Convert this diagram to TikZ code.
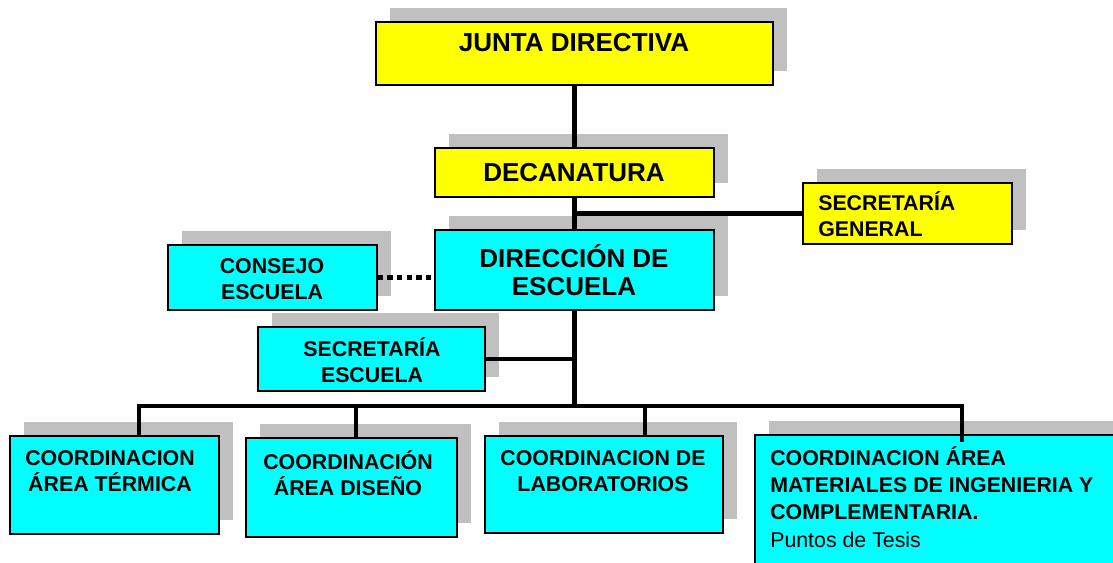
\documentclass[tikz,border=0pt]{standalone}
\usepackage{fontspec}
\setmainfont{Liberation Sans}
\usetikzlibrary{fit,shadows}
\definecolor{amarillo}{RGB}{255,255,0}
\definecolor{cian}{RGB}{0,255,255}
\definecolor{sombra}{RGB}{192,192,192}
\begin{document}
\begin{tikzpicture}[x=0.75pt,y=0.75pt,yscale=-1,xscale=1,
  caja/.style={draw, line width=1.2pt, inner sep=0pt,
    general shadow={fill=sombra, shadow xshift=10.5pt, shadow yshift=10.5pt}},
  amarilla/.style={caja, fill=amarillo},
  celeste/.style={caja, fill=cian},
  grande/.style={font=\bfseries\fontsize{19.5}{21}\selectfont, inner sep=0pt, align=center},
  chica/.style={font=\bfseries\fontsize{16}{19}\selectfont, inner sep=0pt, align=center},
  enlace/.style={line width=3.6pt},
  punteado/.style={line width=3.75pt, dash pattern=on 4pt off 3.2pt}]
\useasboundingbox (0,0) rectangle (1113,562);
\clip (0,0) rectangle (1113,562);

%Shape: Rectangle [junta directiva]
\node [amarilla, fit={(376,22) (773,85)}] (junta) {};
%Shape: Rectangle [decanatura]
\node [amarilla, fit={(435,148) (714,197)}] (decanatura) {};
%Shape: Rectangle [secretaria general]
\node [amarilla, fit={(803,183) (1012,244)}] (secgeneral) {};
%Shape: Rectangle [direccion de escuela]
\node [celeste, fit={(435,230) (714,310)}] (direccion) {};
%Shape: Rectangle [consejo escuela]
\node [celeste, fit={(168,245) (377,310)}] (consejo) {};
%Shape: Rectangle [secretaria escuela]
\node [celeste, fit={(258,327) (485,391)}] (secescuela) {};
%Shape: Rectangle [coordinaciones]
\node [celeste, fit={(10,436) (219,534)}] (termica) {};
\node [celeste, fit={(246,438) (457,537)}] (diseno) {};
\node [celeste, fit={(485,436) (723,533)}] (laboratorios) {};
\node [celeste, fit={(755,435) (1130,580)}] (materiales) {};

%Straight Lines [tronco]
\draw [enlace] (junta.south) -- (decanatura.north) ;
\draw [enlace] (decanatura.south) -- (direccion.north) ;
\draw [enlace] (secgeneral.west) -- (secgeneral.west -| decanatura.south) ;
\draw [punteado] (consejo.east) -- (consejo.east -| direccion.west) ;
\coordinate (b1) at (139,406) ;
\coordinate (b2) at (356,406) ;
\coordinate (b3) at (645,406) ;
\coordinate (b4) at (962,406) ;
\draw [enlace] (direccion.south) -- (direccion.south |- b1) ;
\draw [enlace] (secescuela.east) -- (secescuela.east -| direccion.south) ;
%Straight Lines [barra]
\draw [enlace] (b1 |- termica.north) -- (b1) -- (b4) -- ([yshift=6pt]b4 |- materiales.north) ;
\draw [enlace] (b2) -- (b2 |- diseno.north) ;
\draw [enlace] (b3) -- (b3 |- laboratorios.north) ;

% Text Node
\draw (574,43) node [grande] (tjunta) {JUNTA DIRECTIVA};
% Text Node
\draw (574,173) node [grande] (tdecanatura) {DECANATURA};
% Text Node
\draw (574,270) node [grande] (tdireccion) {DIRECCIÓN\ DE\\ESCUELA};
% Text Node
\draw (818,214) node [chica, anchor=west, align=left] (tsecgeneral) {SECRETARÍA\\GENERAL};
% Text Node
\draw (272,279) node [chica] (tconsejo) {CONSEJO\\ESCUELA};
% Text Node
\draw (372,360) node [chica] (tsecescuela) {SECRETARÍA\\ESCUELA};
% Text Node
\draw (110,471) node [chica] (ttermica) {COORDINACION\\ÁREA TÉRMICA};
% Text Node
\draw (348,473) node [chica] (tdiseno) {COORDINACIÓN\\ÁREA DISEÑO};
% Text Node
\draw (603,471) node [chica] (tlaboratorios) {COORDINACION DE\\LABORATORIOS};
% Text Node
\draw (770,446) node [chica, anchor=north west, align=left, font=\bfseries\fontsize{16}{20.5}\selectfont] (tmateriales) {COORDINACION ÁREA\\MATERIALES DE INGENIERIA Y\\COMPLEMENTARIA.\\{\mdseries Puntos de Tesis}};
\end{tikzpicture}
\end{document}
